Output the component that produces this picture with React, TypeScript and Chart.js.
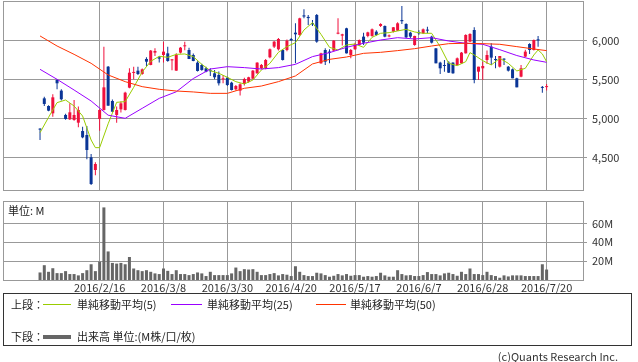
import React, { useEffect, useRef } from "react";
import { Chart, registerables } from "chart.js";
Chart.register(...registerables);

const FONT = '"Noto Sans CJK JP", "Liberation Sans", sans-serif';

// ---- data (index 0 = 2016/1/26 ... index 119 = 2016/7/20) ----
const opens = [
  4862, 5256, 5158, 5064, 5491, 5355, 5043, 4987, 4979, 4944,
  4837, 4786, 4500, 4337, 4991, 5107, 5662, 5222, 5043, 5115,
  5107, 5393, 5582, 5611, 5568, 5761, 5684, 5842, 5782, 5812,
  5833, 5743, 5611, 5842, 5923, 5876, 5812, 5714, 5684, 5641,
  5611, 5577, 5556, 5500, 5521, 5457, 5372, 5355, 5440, 5470,
  5508, 5577, 5641, 5641, 5782, 5919, 5885, 5876, 5876, 6017,
  6098, 6068, 6320, 6300, 6220, 6325, 5705, 5876, 5855, 5868,
  6085, 6060, 6154, 5812, 5885, 5940, 6047, 6056, 6056, 6111,
  6184, 6184, 6050, 6111, 6124, 6260, 6209, 6098, 5940, 6100,
  6090, 6130, 6047, 5897, 5714, 5680, 5714, 5714, 5684, 5705,
  5833, 5983, 6132, 5598, 5641, 5748, 5919, 5760, 5662, 5760,
  5662, 5628, 5513, 5534, 5791, 5953, 5876, 6010, 5400, 5400,
];
const highs = [
  4872, 5278, 5167, 5308, 5500, 5372, 5060, 5192, 5235, 5150,
  4893, 4900, 4543, 4436, 5115, 5919, 5670, 5240, 5150, 5214,
  5340, 5641, 5662, 5662, 5640, 5782, 5875, 5897, 5800, 5983,
  5919, 5760, 5833, 5915, 5983, 5906, 5830, 5730, 5700, 5660,
  5641, 5620, 5600, 5556, 5534, 5470, 5427, 5449, 5521, 5534,
  5620, 5720, 5697, 5760, 5895, 5990, 6030, 5890, 6010, 6030,
  6218, 6290, 6397, 6325, 6260, 6338, 5840, 5897, 5885, 6000,
  6282, 6085, 6160, 5890, 5970, 6010, 6098, 6110, 6150, 6130,
  6220, 6190, 6075, 6170, 6230, 6440, 6220, 6110, 6060, 6130,
  6150, 6175, 6060, 5900, 5726, 5748, 5730, 5720, 5780, 5850,
  6077, 6090, 6167, 5662, 5726, 5868, 5962, 5799, 5800, 5770,
  5670, 5640, 5520, 5684, 5880, 5962, 6010, 6056, 5414, 5440,
];
const lows = [
  4722, 5158, 5090, 5021, 5372, 5227, 4983, 4979, 4970, 4884,
  4744, 4474, 4145, 4269, 4842, 5100, 5162, 5080, 4944, 5073,
  5100, 5385, 5500, 5556, 5560, 5671, 5680, 5799, 5714, 5714,
  5726, 5615, 5611, 5830, 5872, 5760, 5730, 5600, 5610, 5590,
  5543, 5500, 5420, 5449, 5414, 5355, 5355, 5291, 5420, 5457,
  5500, 5570, 5630, 5630, 5770, 5900, 5870, 5740, 5860, 5990,
  5705, 6060, 6282, 6197, 6184, 5970, 5700, 5684, 5705, 5860,
  6077, 5935, 5830, 5769, 5880, 5930, 5940, 6040, 6047, 6060,
  6170, 6040, 6040, 6100, 6120, 6209, 6030, 6030, 5930, 6070,
  6080, 6090, 5960, 5705, 5568, 5598, 5580, 5570, 5680, 5700,
  5830, 5975, 5449, 5491, 5491, 5697, 5684, 5641, 5650, 5684,
  5600, 5513, 5397, 5526, 5785, 5825, 5870, 5919, 5329, 5355,
];
const closes = [
  4855, 5184, 5098, 5269, 5449, 5244, 4991, 5077, 5043, 5107,
  4756, 4594, 4158, 4414, 5107, 5397, 5162, 5085, 5107, 5192,
  5329, 5585, 5590, 5568, 5628, 5726, 5868, 5863, 5765, 5855,
  5735, 5752, 5812, 5906, 5932, 5760, 5735, 5607, 5620, 5598,
  5603, 5526, 5449, 5508, 5427, 5363, 5414, 5436, 5504, 5526,
  5611, 5714, 5684, 5748, 5885, 5983, 6017, 5748, 5996, 6000,
  6077, 6282, 6305, 6285, 6205, 5983, 5833, 5726, 5840, 5996,
  6098, 6077, 5833, 5876, 5949, 6004, 5970, 6102, 6141, 6068,
  6209, 6047, 6058, 6167, 6218, 6245, 6038, 6047, 6056, 6090,
  6141, 6124, 5970, 5705, 5641, 5671, 5585, 5577, 5769, 5842,
  6068, 6081, 5491, 5662, 5671, 5812, 5778, 5748, 5799, 5752,
  5611, 5513, 5397, 5641, 5855, 5876, 6004, 6000, 5390, 5410,
];
// volume, millions
const volumes = [
  8.0, 15.7, 8.7, 12.5, 7.3, 7.3, 9.4, 6.3, 6.3, 4.9,
  7.3, 10.4, 16.7, 9.4, 19.5, 77.0, 30.3, 18.1, 17.4, 18.1,
  16.7, 24.4, 12.2, 10.4, 9.4, 10.4, 8.7, 7.0, 6.3, 12.2,
  9.7, 6.3, 10.4, 6.3, 6.3, 5.2, 6.3, 8.0, 7.0, 4.2,
  8.7, 5.2, 5.2, 5.2, 5.2, 7.0, 13.2, 9.4, 11.5, 11.1,
  11.5, 8.7, 5.2, 5.2, 6.3, 7.3, 4.9, 6.3, 5.6, 4.2,
  14.6, 8.7, 5.2, 4.2, 4.2, 7.7, 7.0, 5.2, 3.5, 4.5,
  6.3, 4.9, 6.3, 4.5, 5.2, 5.2, 3.5, 4.2, 3.5, 4.2,
  7.7, 4.9, 3.5, 3.5, 10.4, 6.3, 4.9, 5.2, 4.2, 4.2,
  5.2, 8.4, 6.3, 6.3, 4.9, 7.0, 7.7, 6.3, 4.5, 8.7,
  6.3, 12.2, 6.3, 6.3, 5.2, 8.7, 5.2, 4.2, 2.4, 4.9,
  3.8, 4.9, 4.9, 4.9, 4.2, 4.2, 4.2, 4.2, 16.7, 11.1,
];

// moving averages (index, value)
const ma5Idx = [0, 2, 4, 6, 8, 10, 12, 13, 14, 16, 18, 20, 22, 24, 26, 28, 30, 32, 34, 36, 38, 40, 42, 44, 46, 48, 50, 52, 54, 56, 58, 60, 62, 64, 66, 68, 70, 72, 74, 76, 78, 80, 82, 84, 86, 88, 90, 92, 94, 96, 98, 100, 101, 102, 104, 106, 108, 110, 112, 114, 116, 117, 118, 119];
const ma5 = [4816, 5013, 5201, 5235, 5158, 5030, 4722, 4624, 4624, 4930, 5205, 5214, 5397, 5594, 5731, 5795, 5782, 5820, 5825, 5791, 5692, 5611, 5577, 5526, 5470, 5440, 5491, 5620, 5705, 5846, 5919, 5970, 6132, 6227, 6077, 5910, 5876, 5940, 5953, 5910, 6038, 6090, 6098, 6120, 6141, 6107, 6090, 6090, 5919, 5705, 5675, 5726, 5842, 5812, 5739, 5684, 5769, 5705, 5607, 5641, 5812, 5876, 5825, 5726];
const ma25Idx = [0, 4, 8, 12, 16, 20, 24, 28, 32, 36, 40, 44, 48, 52, 56, 60, 64, 68, 72, 76, 80, 84, 88, 92, 96, 100, 104, 108, 112, 116, 119];
const ma25 = [5628, 5500, 5363, 5222, 5040, 5000, 5128, 5256, 5340, 5510, 5632, 5662, 5650, 5632, 5650, 5692, 5791, 5842, 5910, 5962, 6004, 6034, 6017, 6034, 5991, 5962, 5949, 5880, 5805, 5748, 5718];
const ma50Idx = [0, 4, 8, 12, 16, 20, 24, 28, 32, 36, 40, 44, 48, 52, 56, 60, 64, 68, 72, 76, 80, 84, 88, 92, 96, 100, 104, 108, 112, 116, 119];
const ma50 = [6056, 5927, 5820, 5705, 5556, 5470, 5406, 5372, 5350, 5338, 5320, 5320, 5385, 5414, 5470, 5543, 5697, 5756, 5786, 5833, 5846, 5868, 5893, 5927, 5957, 5962, 5957, 5949, 5919, 5889, 5868];

const tickIdx = [14, 29, 44, 59, 74, 89, 104, 119];
const tickLabels = ["2016/2/16", "2016/3/8", "2016/3/30", "2016/4/20", "2016/5/17", "2016/6/7", "2016/6/28", "2016/7/20"];
const priceTicks = [4500, 5000, 5500, 6000];
const volTicks = [20, 40, 60];
const maNames = ["単純移動平均(5)", "単純移動平均(25)", "単純移動平均(50)"];
const volName = "出来高 単位:(M株/口/枚)";

const UP = "#f0103c";
const DOWN = "#0a3596";
const GRID = "#999999";
const MA_COLORS = ["#99cc00", "#9900ff", "#ff3300"];

const X_MIN = -8.7;
const X_MAX = 127.55;

const boxBorder = {
  id: "boxBorder",
  afterDraw(chart: any) {
    const { ctx, chartArea: a } = chart;
    ctx.save();
    ctx.strokeStyle = GRID;
    ctx.lineWidth = 1;
    ctx.strokeRect(Math.round(a.left) + 0.5, Math.round(a.top) + 0.5, Math.round(a.right - a.left), Math.round(a.bottom - a.top));
    ctx.restore();
  },
};

function xScale(showLabels: boolean) {
  return {
    type: "linear" as const,
    min: X_MIN,
    max: X_MAX,
    offset: false,
    afterBuildTicks: (s: any) => {
      s.ticks = tickIdx.map((v) => ({ value: v }));
    },
    afterFit: (s: any) => {
      s.height = showLabels ? 20 : 0;
      s.paddingLeft = 0;
      s.paddingRight = 0;
      s.paddingTop = 0;
      s.paddingBottom = 0;
    },
    grid: { color: GRID, drawTicks: false, offset: false },
    border: { display: false },
    ticks: {
      display: showLabels,
      autoSkip: false,
      maxRotation: 0,
      padding: 1,
      color: "#333",
      font: { family: FONT, size: 11 },
      callback: (v: any) => tickLabels[tickIdx.indexOf(v)] ?? "",
    },
  };
}

function yScale(min: number, max: number, ticks: number[], fmt: (v: number) => string) {
  return {
    type: "linear" as const,
    position: "right" as const,
    min,
    max,
    afterBuildTicks: (s: any) => {
      s.ticks = ticks.map((v) => ({ value: v }));
    },
    afterFit: (s: any) => {
      s.width = 55;
      s.paddingTop = 0;
      s.paddingBottom = 0;
      s.paddingLeft = 0;
      s.paddingRight = 0;
    },
    grid: { color: GRID, tickLength: 4 },
    border: { display: false },
    ticks: {
      padding: 5,
      color: "#333",
      font: { family: FONT, size: 11 },
      callback: (v: any) => fmt(Number(v)),
    },
  };
}

function PriceChart() {
  const ref = useRef<HTMLCanvasElement>(null);
  useEffect(() => {
    const idx = opens.map((_, i) => i);
    const col = idx.map((i) => (closes[i] >= opens[i] ? UP : DOWN));
    const line = (xs: number[], ys: number[], c: string) => ({
      type: "line" as const,
      data: xs.map((x, k) => ({ x, y: ys[k] })),
      borderColor: c,
      borderWidth: 1,
      pointRadius: 0,
      tension: 0,
      order: 0,
    });
    const chart = new Chart(ref.current!, {
      type: "bar",
      data: {
        datasets: [
          line(ma50Idx, ma50, MA_COLORS[2]) as any,
          line(ma25Idx, ma25, MA_COLORS[1]) as any,
          line(ma5Idx, ma5, MA_COLORS[0]) as any,
          {
            type: "bar",
            data: idx.map((i) => ({ x: i, y: [Math.min(opens[i], closes[i]), Math.max(opens[i], closes[i])] })),
            backgroundColor: col,
            barThickness: 3,
            minBarLength: 1,
            grouped: false,
            inflateAmount: 0,
            order: 4,
          } as any,
          {
            type: "bar",
            data: idx.map((i) => ({ x: i, y: [lows[i], highs[i]] })),
            backgroundColor: col,
            barThickness: 1,
            grouped: false,
            inflateAmount: 0,
            order: 5,
          } as any,
        ],
      },
      options: {
        animation: false,
        responsive: false,
        layout: { padding: { left: 3, top: 1, right: 0, bottom: 2 } },
        plugins: { legend: { display: false }, tooltip: { enabled: false } },
        scales: {
          x: xScale(false) as any,
          y: yScale(4081, 6504, priceTicks, (v) => v.toLocaleString("en-US")) as any,
        },
      },
      plugins: [boxBorder],
    });
    return () => chart.destroy();
  }, []);
  return (
    <canvas
      ref={ref}
      width={638}
      height={192}
      style={{ position: "absolute", left: 0, top: 0, width: 638, height: 192 }}
    />
  );
}

function VolumeChart() {
  const ref = useRef<HTMLCanvasElement>(null);
  useEffect(() => {
    const chart = new Chart(ref.current!, {
      type: "bar",
      data: {
        datasets: [
          {
            data: volumes.map((v, i) => ({ x: i, y: v })),
            backgroundColor: "#666666",
            barThickness: 3,
            inflateAmount: 0,
          } as any,
        ],
      },
      options: {
        animation: false,
        responsive: false,
        layout: { padding: { left: 3, top: 6, right: 0, bottom: 0 } },
        plugins: { legend: { display: false }, tooltip: { enabled: false } },
        scales: {
          x: xScale(true) as any,
          y: yScale(0, 83.8, volTicks, (v) => `${v}M`) as any,
        },
      },
      plugins: [boxBorder],
    });
    return () => chart.destroy();
  }, []);
  return (
    <canvas
      ref={ref}
      width={638}
      height={105}
      style={{ position: "absolute", left: 0, top: 195, width: 638, height: 105 }}
    />
  );
}

const txt: React.CSSProperties = {
  position: "absolute",
  fontSize: 11,
  lineHeight: "14px",
  color: "#222",
  fontFamily: FONT,
  whiteSpace: "nowrap",
};

export default function App() {
  return (
    <div
      style={{
        position: "fixed",
        left: 0,
        top: 0,
        width: 638,
        height: 362,
        background: "#fff",
        overflow: "hidden",
        fontFamily: FONT,
      }}
    >
      <PriceChart />
      <VolumeChart />
      <div style={{ ...txt, left: 8, top: 203 }}>単位: M</div>
      <div
        style={{
          position: "absolute",
          left: 3,
          top: 293,
          width: 629,
          height: 53,
          border: "1px solid #333",
          boxSizing: "border-box",
        }}
      />
      <div style={{ ...txt, left: 11, top: 297 }}>上段：</div>
      <div style={{ position: "absolute", left: 43, top: 304, width: 28, height: 1, background: MA_COLORS[0] }} />
      <div style={{ ...txt, left: 77, top: 297 }}>{maNames[0]}</div>
      <div style={{ position: "absolute", left: 171, top: 304, width: 31, height: 1, background: MA_COLORS[1] }} />
      <div style={{ ...txt, left: 207, top: 297 }}>{maNames[1]}</div>
      <div style={{ position: "absolute", left: 316, top: 304, width: 30, height: 1, background: MA_COLORS[2] }} />
      <div style={{ ...txt, left: 350, top: 297 }}>{maNames[2]}</div>
      <div style={{ ...txt, left: 11, top: 329 }}>下段：</div>
      <div style={{ position: "absolute", left: 43, top: 335, width: 28, height: 4, background: "#666" }} />
      <div style={{ ...txt, left: 77, top: 329 }}>{volName}</div>
      <div style={{ ...txt, right: 20, top: 349, color: "#333" }}>(c)Quants Research Inc.</div>
    </div>
  );
}
